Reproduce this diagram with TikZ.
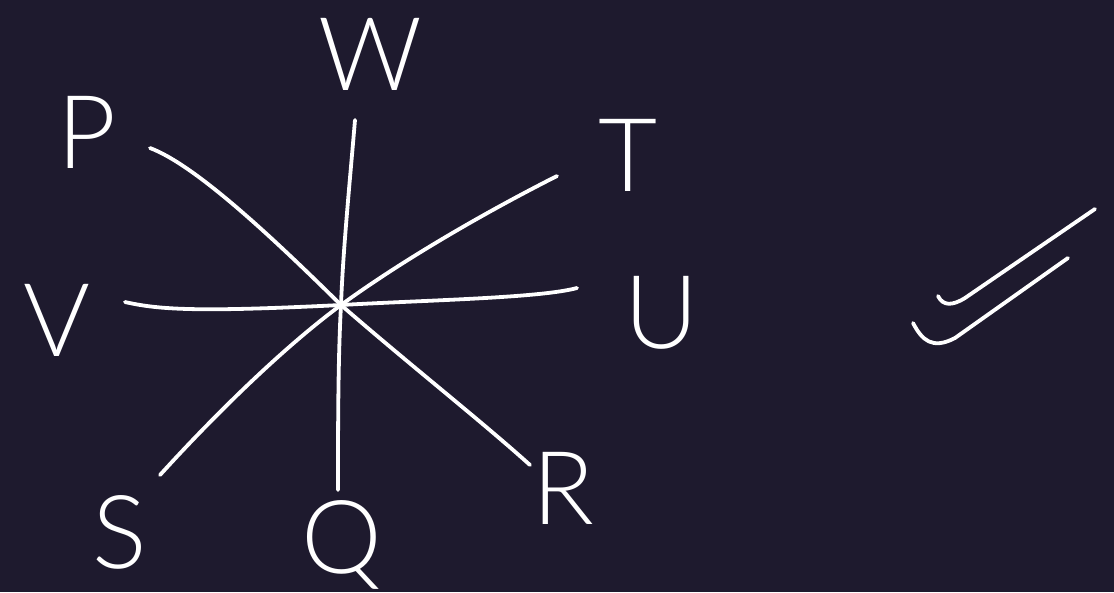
\documentclass[tikz,border=0pt]{standalone}
\usepackage{fontspec}
\setmainfont{Lato Light}
\definecolor{bg}{HTML}{1E1A2E}
\begin{document}
\begin{tikzpicture}[x=1pt,y=-1pt,
  stroke/.style={draw=white,line width=3.8pt,line cap=round,line join=round},
  lbl/.style={text=white,font=\fontsize{102}{102}\selectfont,inner sep=0pt}]
\fill[bg] (0,0) rectangle (1114,592);
\useasboundingbox (0,0) rectangle (1114,592);
% centre and ends
\coordinate (o) at (341,305);
\coordinate (wEnd) at (355,120);
\coordinate (qEnd) at (338,490);
\coordinate (pEnd) at (150,148);
\coordinate (rEnd) at (530,465);
\coordinate (tEnd) at (557,176);
\coordinate (sEnd) at (160,475);
\coordinate (vEnd) at (125,302);
\coordinate (uEnd) at (577,288);
% lines
\draw[stroke] (wEnd) .. controls (350,180) and (343,250) .. (o) .. controls (338,360) and (338,430) .. (qEnd);
\draw[stroke] (pEnd) .. controls (195,165) and (270,235) .. (o) .. controls (410,365) and (480,420) .. (rEnd);
\draw[stroke] (tEnd) .. controls (480,215) and (400,262) .. (o) .. controls (280,350) and (210,420) .. (sEnd);
\draw[stroke] (vEnd) .. controls (160,310) and (200,312) .. (o) .. controls (430,300) and (540,298) .. (uEnd);
% labels
\node[lbl] (W) at (370,54) {W};
\node[lbl] (P) at (87,132) {P};
\node[lbl] (T) at (628,155) {T};
\node[lbl] (V) at (57,320) {V};
\node[lbl] (U) at (662,313) {U};
\node[lbl] (R) at (563,488) {R};
\node[lbl] (S) at (120,532) {S};
\node[lbl] (Q) at (342,545) {Q};
% check marks
\coordinate (c1a) at (938,296);
\coordinate (c1b) at (1095,209);
\coordinate (c2a) at (913,323);
\coordinate (c2b) at (1068,258);
\draw[stroke] (c1a) .. controls (943,306) and (952,306) .. (965,298) -- (c1b);
\draw[stroke] (c2a) .. controls (922,340) and (932,350) .. (955,338) -- (c2b);
\end{tikzpicture}
\end{document}
